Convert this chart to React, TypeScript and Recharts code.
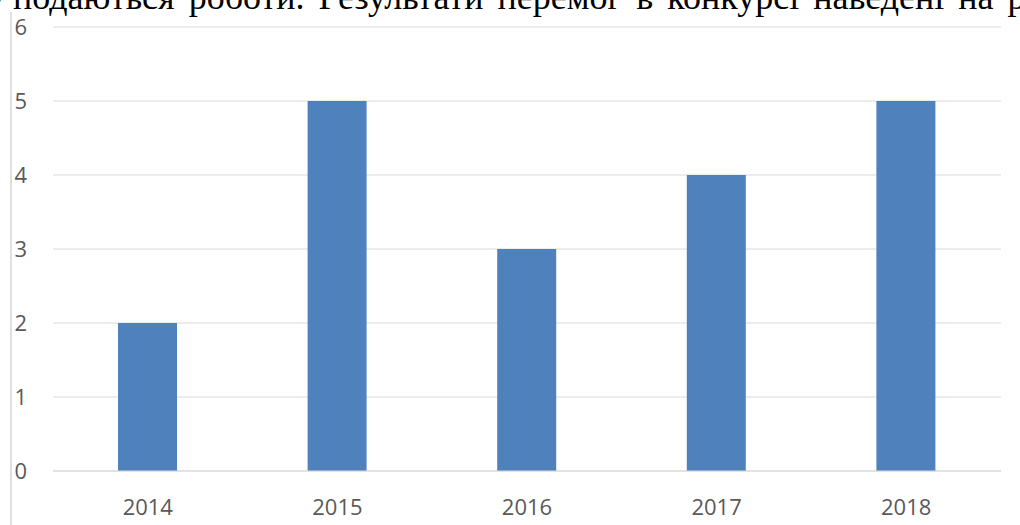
import React from 'react';
import { BarChart, Bar, XAxis, YAxis, CartesianGrid } from 'recharts';

const years = ['2014', '2015', '2016', '2017', '2018'];
const wins = [2, 5, 3, 4, 5];
const yTicks = [0, 1, 2, 3, 4, 5, 6];
const headerPrefix = 'у';
const headerText = 'подаються роботи. Результати перемог в конкурсі наведені на рисунку';

const data = years.map((y, i) => ({ year: y, value: wins[i] }));

const tickStyle = { fontFamily: '"Open Sans", sans-serif', fontSize: 22, fill: '#595959' };
const serif = '"Liberation Serif", "Times New Roman", serif';

export default function App() {
  return (
    <div style={{ position: 'fixed', top: 0, left: 0, width: 1020, height: 525, background: '#fff', overflow: 'hidden' }}>
      <svg width={1020} height={40} style={{ position: 'absolute', top: 0, left: 0 }}>
        <text x={-13} y={8.5} fontFamily={serif} fontSize={36} fill="#000">
          {headerPrefix}
        </text>
        <text x={13} y={8.5} fontFamily={serif} fontSize={36} fill="#000" style={{ wordSpacing: 5 }}>
          {headerText}
        </text>
      </svg>
      <div style={{ position: 'absolute', left: 10, top: 12, width: 2, height: 513, background: '#e0e0e0' }} />
      <div style={{ position: 'absolute', top: 0, left: 0 }}>
        <BarChart width={1020} height={525} data={data} margin={{ top: 27, right: 19, left: 10, bottom: 0 }}>
          <CartesianGrid vertical={false} stroke="#d9d9d9" />
          <XAxis
            dataKey="year"
            height={54}
            axisLine={{ stroke: '#d9d9d9' }}
            tickLine={false}
            tickSize={0}
            tickMargin={28}
            tick={tickStyle}
          />
          <YAxis
            width={43}
            domain={[0, 6]}
            ticks={yTicks}
            axisLine={false}
            tickLine={false}
            tickSize={0}
            tickMargin={26}
            tick={tickStyle}
          />
          <Bar dataKey="value" fill="#4F81BD" barSize={59} isAnimationActive={false} />
        </BarChart>
      </div>
    </div>
  );
}
